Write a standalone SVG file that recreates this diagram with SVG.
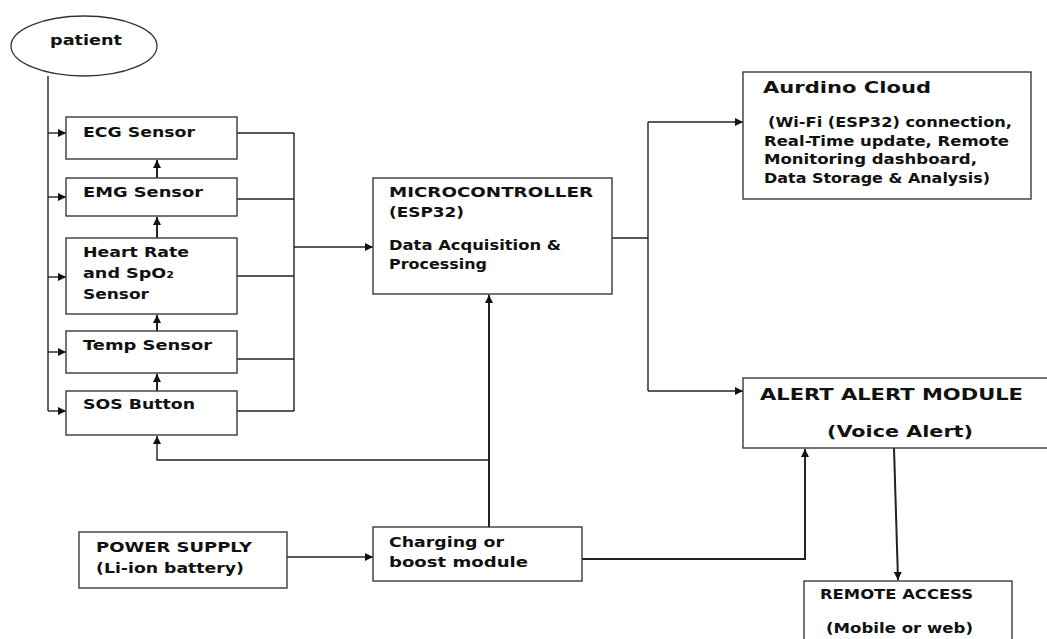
<svg xmlns="http://www.w3.org/2000/svg" width="1047" height="639" viewBox="0 0 1047 639">
<style>
.box{fill:#fff;stroke:#3a3a3a;stroke-width:1.4}
.t{font-family:"DejaVu Sans","Liberation Sans",sans-serif;font-weight:bold;font-size:14px;fill:#111}
.tl{font-family:"DejaVu Sans","Liberation Sans",sans-serif;font-weight:bold;font-size:16.5px;fill:#111}
.c{fill:none;stroke:#222;stroke-width:1.4}
.ct{fill:none;stroke:#222;stroke-width:2}
</style>
<defs>
<marker id="a" viewBox="0 0 10 10" refX="10" refY="5" markerWidth="10" markerHeight="8" markerUnits="userSpaceOnUse" orient="auto">
<path d="M0,0 L10,5 L0,10 z" fill="#111"/>
</marker>
</defs>
<rect width="1047" height="639" fill="#fff"/>
<g id="connectors">
<path class="c" d="M48,76 V411"/>
<path class="c" d="M48,133 H66" marker-end="url(#a)"/>
<path class="c" d="M48,197 H66" marker-end="url(#a)"/>
<path class="c" d="M48,277 H66" marker-end="url(#a)"/>
<path class="c" d="M48,352 H66" marker-end="url(#a)"/>
<path class="c" d="M48,411 H66" marker-end="url(#a)"/>
<path class="ct" d="M157,178 V160" marker-end="url(#a)"/>
<path class="ct" d="M157,238 V217" marker-end="url(#a)"/>
<path class="ct" d="M157,331 V315" marker-end="url(#a)"/>
<path class="ct" d="M157,391 V374" marker-end="url(#a)"/>
<path class="c" d="M237,133 H294 M237,199 H294 M237,276 H294 M237,359 H294 M237,411 H294 M294,133 V411"/>
<path class="c" d="M294,247 H373" marker-end="url(#a)"/>
<path class="ct" d="M489,527 V295" marker-end="url(#a)"/>
<path class="c" d="M489,460 H157 V436" marker-end="url(#a)"/>
<path class="c" d="M287,557 H373" marker-end="url(#a)"/>
<path class="ct" d="M582,559 H805 V449" marker-end="url(#a)"/>
<path class="c" d="M612,238 H648 M648,122 V391"/>
<path class="c" d="M648,122 H743" marker-end="url(#a)"/>
<path class="c" d="M648,391 H743" marker-end="url(#a)"/>
<path class="ct" d="M894,448 L898,580" marker-end="url(#a)"/>
</g>
<g id="patient">
<ellipse cx="84" cy="46" rx="73" ry="30" fill="#fff" stroke="#333" stroke-width="1.3"/>
<text class="t" x="50" y="45" textLength="72" lengthAdjust="spacingAndGlyphs">patient</text>
</g>
<g id="ecg">
<rect class="box" x="66" y="117" width="171" height="42"/>
<text class="t" x="83" y="137" textLength="112" lengthAdjust="spacingAndGlyphs">ECG Sensor</text>
</g>
<g id="emg">
<rect class="box" x="66" y="178" width="171" height="38"/>
<text class="t" x="83" y="197" textLength="120" lengthAdjust="spacingAndGlyphs">EMG Sensor</text>
</g>
<g id="heartrate">
<rect class="box" x="66" y="238" width="171" height="76"/>
<text class="t" x="83" y="257" textLength="106" lengthAdjust="spacingAndGlyphs">Heart Rate</text>
<text class="t" x="83" y="278" textLength="91" lengthAdjust="spacingAndGlyphs">and SpO₂</text>
<text class="t" x="83" y="299" textLength="66" lengthAdjust="spacingAndGlyphs">Sensor</text>
</g>
<g id="temp">
<rect class="box" x="66" y="331" width="171" height="42"/>
<text class="t" x="83" y="350" textLength="129" lengthAdjust="spacingAndGlyphs">Temp Sensor</text>
</g>
<g id="sos">
<rect class="box" x="66" y="391" width="171" height="44"/>
<text class="t" x="83" y="409" textLength="112" lengthAdjust="spacingAndGlyphs">SOS Button</text>
</g>
<g id="microcontroller">
<rect class="box" x="373" y="178" width="239" height="116"/>
<text class="t" x="389" y="197" textLength="204" lengthAdjust="spacingAndGlyphs">MICROCONTROLLER</text>
<text class="t" x="389" y="217" textLength="75" lengthAdjust="spacingAndGlyphs">(ESP32)</text>
<text class="t" x="389" y="250" textLength="172" lengthAdjust="spacingAndGlyphs">Data Acquisition &amp;</text>
<text class="t" x="389" y="269" textLength="98" lengthAdjust="spacingAndGlyphs">Processing</text>
</g>
<g id="cloud">
<rect class="box" x="743" y="72" width="288" height="127"/>
<text class="tl" x="763" y="93" textLength="168" lengthAdjust="spacingAndGlyphs">Aurdino Cloud</text>
<text class="t" x="768" y="127" textLength="244" lengthAdjust="spacingAndGlyphs">(Wi-Fi (ESP32) connection,</text>
<text class="t" x="764" y="146" textLength="245" lengthAdjust="spacingAndGlyphs">Real-Time update, Remote</text>
<text class="t" x="764" y="164" textLength="213" lengthAdjust="spacingAndGlyphs">Monitoring dashboard,</text>
<text class="t" x="764" y="183" textLength="226" lengthAdjust="spacingAndGlyphs">Data Storage &amp; Analysis)</text>
</g>
<g id="alert">
<rect class="box" x="743" y="378" width="310" height="70"/>
<text class="tl" x="760" y="400" textLength="263" lengthAdjust="spacingAndGlyphs">ALERT ALERT MODULE</text>
<text class="tl" x="827" y="437" textLength="146" lengthAdjust="spacingAndGlyphs">(Voice Alert)</text>
</g>
<g id="remote">
<rect class="box" x="804" y="581" width="208" height="70"/>
<text class="t" x="820" y="599" textLength="153" lengthAdjust="spacingAndGlyphs">REMOTE ACCESS</text>
<text class="t" x="826" y="633" textLength="147" lengthAdjust="spacingAndGlyphs">(Mobile or web)</text>
</g>
<g id="power">
<rect class="box" x="79" y="532" width="208" height="56"/>
<text class="t" x="96" y="552" textLength="156" lengthAdjust="spacingAndGlyphs">POWER SUPPLY</text>
<text class="t" x="96" y="573" textLength="148" lengthAdjust="spacingAndGlyphs">(Li-ion battery)</text>
</g>
<g id="charging">
<rect class="box" x="373" y="527" width="209" height="54"/>
<text class="t" x="389" y="547" textLength="115" lengthAdjust="spacingAndGlyphs">Charging or</text>
<text class="t" x="389" y="567" textLength="139" lengthAdjust="spacingAndGlyphs">boost module</text>
</g>
</svg>
